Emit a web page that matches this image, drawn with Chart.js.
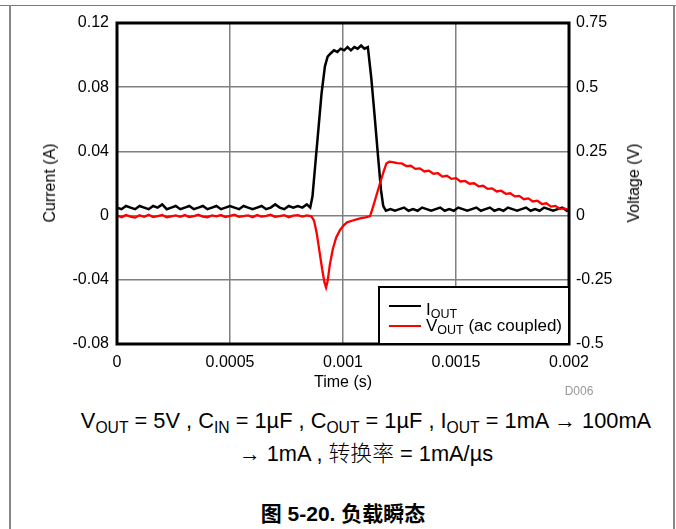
<!DOCTYPE html>
<html>
<head>
<meta charset="utf-8">
<script src="https://cdn.jsdelivr.net/npm/chart.js@4.4.0/dist/chart.umd.min.js"></script>
<style>
body { margin: 0; background: #fff; font-family: "Liberation Sans", Arial, sans-serif; }
#page { position: relative; width: 676px; height: 529px; overflow: hidden; background: #fff; }
#chart { position: absolute; left: 0; top: 0; }
.frame-top { position: absolute; left: 0; top: 5px; width: 676px; height: 1px; background: #777; }
.frame-left { position: absolute; left: 9px; top: 5px; width: 2px; height: 524px; background: #888; }
.frame-right { position: absolute; left: 673px; top: 5px; width: 2px; height: 524px; background: #888; }
.txt { position: absolute; white-space: nowrap; color: #000; transform: translate(-50%, -50%); line-height: 1; }
.rot { transform: translate(-50%, -50%) rotate(-90deg); }
.axis-title { font-size: 16px; }
.caption { font-size: 21.8px; }
.caption sub { font-size: 0.72em; vertical-align: baseline; position: relative; top: 0.3em; line-height: 0; }
.fig-title { font-size: 21px; font-weight: bold; font-family: "Liberation Sans", "Noto Sans CJK SC", sans-serif; }
.cjk { font-family: "Noto Sans CJK SC", sans-serif; font-weight: 300; }
</style>
</head>
<body>
<div id="page">
  <div class="frame-top"></div>
  <div class="frame-left"></div>
  <div class="frame-right"></div>
  <canvas id="chart" width="676" height="400"></canvas>
  <div class="txt axis-title rot" style="left:50px; top:183px;">Current (A)</div>
  <div class="txt axis-title rot" style="left:634px; top:183px;">Voltage (V)</div>
  <div class="txt axis-title" style="left:343px; top:382px;">Time (s)</div>
  <div class="txt" style="left:579px; top:391px; font-size:12px; color:#999;">D006</div>
  <div class="txt caption" style="left:366px; top:421px;">V<sub>OUT</sub> = 5V , C<sub>IN</sub> = 1µF , C<sub>OUT</sub> = 1µF , I<sub>OUT</sub> = 1mA → 100mA</div>
  <div class="txt caption" style="left:366px; top:453px;">→ 1mA , <span class="cjk">转换率</span> = 1mA/µs</div>
  <div class="txt fig-title" style="left:343px; top:513px;">图 5-20. 负载瞬态</div>
</div>
<script>
// axis ticks
const xTicks = [0, 0.0005, 0.001, 0.0015, 0.002];
const leftTicks = [-0.08, -0.04, 0, 0.04, 0.08, 0.12];
const rightTicks = [-0.5, -0.25, 0, 0.25, 0.5, 0.75];

// IOUT trace, time in microseconds, current in A
const iTime = [0,20,40,60,80,100,120,140,160,180,200,220,240,260,280,300,320,340,360,380,400,420,440,460,480,500,520,540,560,580,600,620,640,660,680,700,720,740,760,780,800,820,840,
  855,865,875,890,905,920,932,945,960,975,990,1005,1020,1035,1050,1065,1080,1095,1110,1125,1140,1155,1168,1178,1190,
  1210,1230,1250,1270,1290,1310,1330,1350,1370,1390,1410,1430,1450,1470,1490,1510,1530,1550,1570,1590,1610,1630,1650,1670,1690,1710,1730,1750,1770,1790,1810,1830,1850,1870,1890,1910,1930,1950,1970,1990,2000];
const iOut = [0.005,0.004,0.006,0.005,0.004,0.006,0.005,0.004,0.006,0.005,
  0.007,0.004,0.005,0.006,0.004,0.005,0.006,0.004,0.005,0.006,
  0.004,0.005,0.006,0.004,0.005,0.006,0.005,0.004,0.006,0.005,
  0.004,0.005,0.006,0.004,0.005,0.007,0.005,0.004,0.006,0.005,
  0.006,0.005,0.007,
  0.005,0.012,0.028,0.052,0.076,0.093,0.099,0.101,0.103,0.102,0.104,0.103,0.105,0.103,0.105,0.104,0.106,0.104,0.105,0.086,0.062,0.037,0.016,0.006,0.003,
  0.004,0.003,0.004,0.005,0.003,0.004,0.003,0.005,0.004,0.003,
  0.004,0.005,0.003,0.004,0.003,0.005,0.004,0.003,0.004,0.005,
  0.003,0.004,0.005,0.003,0.004,0.003,0.005,0.004,0.003,0.004,
  0.005,0.003,0.004,0.003,0.005,0.004,0.003,0.004,0.005,0.003,
  0.004];

// VOUT (ac coupled) trace, time in microseconds, voltage in V
const vTime = [0,20,40,60,80,100,120,140,160,180,200,220,240,260,280,300,320,340,360,380,400,420,440,460,480,500,520,540,560,580,600,620,640,660,680,700,720,740,760,780,800,820,840,860,
  872,884,896,908,918,925,932,942,955,970,987,1003,1018,1040,1060,1080,1100,1120,1135,1150,1165,1180,1192,1205,1220,
  1240,1260,1280,1300,1320,1340,1360,1380,1400,1420,1440,1460,1480,1500,1520,1540,1560,1580,1600,1620,1640,1660,1680,1700,1720,1740,1760,1780,1800,1820,1840,1860,1880,1900,1920,1940,1960,1980,2000];
const vOut = [0.000,-0.006,0.002,-0.004,-0.008,0.001,-0.005,0.003,-0.006,-0.002,
  0.002,-0.007,-0.003,0.001,-0.005,0.002,-0.006,-0.002,0.003,-0.004,
  -0.007,0.001,-0.003,0.002,-0.006,-0.001,0.003,-0.005,-0.002,0.001,
  -0.006,0.002,-0.004,-0.001,0.003,-0.005,-0.002,0.002,-0.006,0.000,
  0.002,-0.004,0.001,-0.003,
  -0.02,-0.07,-0.14,-0.21,-0.26,-0.28,-0.255,-0.19,-0.13,-0.085,-0.056,-0.038,-0.026,-0.02,-0.015,-0.01,-0.007,-0.002,0.04,0.085,0.13,0.172,0.203,0.21,0.208,
  0.204,0.203,0.193,0.194,0.182,0.184,0.172,0.175,0.163,0.165,
  0.152,0.155,0.143,0.146,0.133,0.135,0.124,0.126,0.114,0.116,
  0.104,0.106,0.094,0.097,0.085,0.087,0.075,0.077,0.064,0.067,
  0.055,0.058,0.045,0.048,0.035,0.038,0.026,0.028,0.021];

// legend entries: main text, subscript, trailing text
const legendNames = [['I', 'OUT', ''], ['V', 'OUT', ' (ac coupled)']];
const legendColors = ['#000000', '#ff0000'];

Chart.defaults.font.family = '"Liberation Sans", Arial, sans-serif';

const frameAndLegend = {
    id: 'frameAndLegend',
    afterDatasetsDraw(chart) {
        const ctx = chart.ctx;
        const a = chart.chartArea;
        ctx.save();
        ctx.strokeStyle = '#000';
        ctx.lineWidth = 3;
        ctx.strokeRect(a.left, a.top, a.right - a.left, a.bottom - a.top);

        // legend box in the lower right corner
        const w = 190, h = 57;
        const x0 = a.right - w, y0 = a.bottom - h;
        ctx.fillStyle = '#fff';
        ctx.fillRect(x0, y0, w, h);
        ctx.lineWidth = 2;
        ctx.strokeRect(x0, y0, w, h);

        legendNames.forEach((parts, i) => {
            const lineY = y0 + 19 + i * 20;
            const baseY = y0 + 28 + i * 16;
            ctx.strokeStyle = legendColors[i];
            ctx.lineWidth = 2;
            ctx.beginPath();
            ctx.moveTo(x0 + 10, lineY);
            ctx.lineTo(x0 + 42, lineY);
            ctx.stroke();

            ctx.fillStyle = '#000';
            ctx.textBaseline = 'alphabetic';
            ctx.textAlign = 'left';
            let x = x0 + 47;
            ctx.font = '17px "Liberation Sans", Arial, sans-serif';
            ctx.fillText(parts[0], x, baseY);
            x += ctx.measureText(parts[0]).width;
            ctx.font = '12.5px "Liberation Sans", Arial, sans-serif';
            ctx.fillText(parts[1], x, baseY + 3);
            x += ctx.measureText(parts[1]).width;
            ctx.font = '17px "Liberation Sans", Arial, sans-serif';
            ctx.fillText(parts[2], x, baseY);
        });
        ctx.restore();
    }
};

const gridStyle = { color: '#808080', lineWidth: 1.5, drawTicks: false };
const tickFont = { size: 16 };

new Chart(document.getElementById('chart'), {
    type: 'line',
    data: {
        datasets: [
            {
                label: 'VOUT (ac coupled)',
                data: vTime.map((t, i) => ({ x: t * 1e-6, y: vOut[i] })),
                yAxisID: 'y2',
                borderColor: '#ff0000',
                borderWidth: 2.3,
                pointRadius: 0,
                order: 0
            },
            {
                label: 'IOUT',
                data: iTime.map((t, i) => ({ x: t * 1e-6, y: iOut[i] })),
                yAxisID: 'y',
                borderColor: '#000000',
                borderWidth: 2.5,
                pointRadius: 0,
                order: 1
            }
        ]
    },
    options: {
        responsive: false,
        animation: false,
        layout: { padding: { top: 23, left: 0, right: 0, bottom: 0 } },
        plugins: { legend: { display: false }, tooltip: { enabled: false } },
        scales: {
            x: {
                type: 'linear',
                min: 0,
                max: 0.002,
                grid: gridStyle,
                border: { display: false },
                afterBuildTicks: s => { s.ticks = xTicks.map(v => ({ value: v })); },
                afterFit: s => { s.height = 56; },
                ticks: { color: '#000', font: tickFont, padding: 9, maxRotation: 0, callback: v => String(v) }
            },
            y: {
                position: 'left',
                min: -0.08,
                max: 0.12,
                grid: gridStyle,
                border: { display: false },
                afterBuildTicks: s => { s.ticks = leftTicks.map(v => ({ value: v })); },
                afterFit: s => { s.width = 117; },
                ticks: { color: '#000', font: tickFont, padding: 8, callback: v => String(v) }
            },
            y2: {
                position: 'right',
                min: -0.5,
                max: 0.75,
                grid: { display: false, drawTicks: false },
                border: { display: false },
                afterBuildTicks: s => { s.ticks = rightTicks.map(v => ({ value: v })); },
                afterFit: s => { s.width = 107; },
                ticks: { color: '#000', font: tickFont, padding: 7, callback: v => String(v) }
            }
        }
    },
    plugins: [frameAndLegend]
});
</script>
</body>
</html>
